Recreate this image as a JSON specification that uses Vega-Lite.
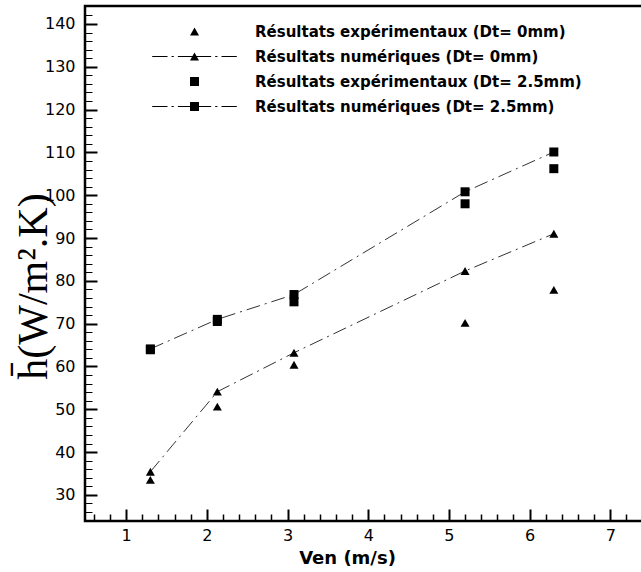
{
  "$schema": "https://vega.github.io/schema/vega-lite/v6.json",
  "width": 558,
  "height": 515,
  "autosize": {"type": "none"},
  "padding": {"left": 85, "top": 6, "right": -2, "bottom": 51},
  "background": "white",
  "config": {"view": {"stroke": "black", "strokeWidth": 2.5}, "font": "DejaVu Sans"},
  "data": {
    "values": [
      {"v": 1.3, "h": 33.5, "type": "exp", "dt": "0", "series": "Résultats expérimentaux (Dt= 0mm)"},
      {"v": 2.13, "h": 50.6, "type": "exp", "dt": "0", "series": "Résultats expérimentaux (Dt= 0mm)"},
      {"v": 3.08, "h": 60.4, "type": "exp", "dt": "0", "series": "Résultats expérimentaux (Dt= 0mm)"},
      {"v": 5.2, "h": 70.2, "type": "exp", "dt": "0", "series": "Résultats expérimentaux (Dt= 0mm)"},
      {"v": 6.3, "h": 77.9, "type": "exp", "dt": "0", "series": "Résultats expérimentaux (Dt= 0mm)"},
      {"v": 1.3, "h": 35.4, "type": "num", "dt": "0", "series": "Résultats numériques (Dt= 0mm)"},
      {"v": 2.13, "h": 54.1, "type": "num", "dt": "0", "series": "Résultats numériques (Dt= 0mm)"},
      {"v": 3.08, "h": 63.2, "type": "num", "dt": "0", "series": "Résultats numériques (Dt= 0mm)"},
      {"v": 5.2, "h": 82.3, "type": "num", "dt": "0", "series": "Résultats numériques (Dt= 0mm)"},
      {"v": 6.3, "h": 91.0, "type": "num", "dt": "0", "series": "Résultats numériques (Dt= 0mm)"},
      {"v": 1.3, "h": 63.9, "type": "exp", "dt": "2.5", "series": "Résultats expérimentaux (Dt= 2.5mm)"},
      {"v": 2.13, "h": 70.5, "type": "exp", "dt": "2.5", "series": "Résultats expérimentaux (Dt= 2.5mm)"},
      {"v": 3.08, "h": 75.1, "type": "exp", "dt": "2.5", "series": "Résultats expérimentaux (Dt= 2.5mm)"},
      {"v": 5.2, "h": 98.0, "type": "exp", "dt": "2.5", "series": "Résultats expérimentaux (Dt= 2.5mm)"},
      {"v": 6.3, "h": 106.2, "type": "exp", "dt": "2.5", "series": "Résultats expérimentaux (Dt= 2.5mm)"},
      {"v": 1.3, "h": 64.1, "type": "num", "dt": "2.5", "series": "Résultats numériques (Dt= 2.5mm)"},
      {"v": 2.13, "h": 71.0, "type": "num", "dt": "2.5", "series": "Résultats numériques (Dt= 2.5mm)"},
      {"v": 3.08, "h": 76.8, "type": "num", "dt": "2.5", "series": "Résultats numériques (Dt= 2.5mm)"},
      {"v": 5.2, "h": 100.8, "type": "num", "dt": "2.5", "series": "Résultats numériques (Dt= 2.5mm)"},
      {"v": 6.3, "h": 110.1, "type": "num", "dt": "2.5", "series": "Résultats numériques (Dt= 2.5mm)"}
    ]
  },
  "resolve": {"axis": {"x": "independent", "y": "independent"}, "scale": {"shape": "independent"}},
  "layer": [
    {
      "transform": [{"filter": "datum.type === 'num'"}],
      "mark": {"type": "line", "color": "#333333", "strokeWidth": 1, "strokeDash": [14, 5, 2, 5]},
      "encoding": {
        "x": {
          "field": "v", "type": "quantitative",
          "scale": {"domain": [0.49, 7.405], "nice": false, "zero": false},
          "axis": {
            "orient": "bottom", "offset": -12, "values": [1, 2, 3, 4, 5, 6, 7], "format": "d",
            "title": "Ven (m/s)", "titleFont": "DejaVu Sans", "titleFontSize": 18, "titleFontWeight": "bold", "titleColor": "black",
            "titleX": 262, "titleY": 49, "titleAlign": "center", "titleBaseline": "middle", "titleAnchor": "start",
            "labelFont": "DejaVu Sans", "labelFontSize": 16, "labelColor": "black", "labelPadding": 6, "labelFlush": false, "labelOverlap": false,
            "ticks": true, "tickSize": 12, "tickWidth": 2, "tickColor": "black",
            "domain": false, "grid": false
          }
        },
        "y": {
          "field": "h", "type": "quantitative",
          "scale": {"domain": [23.9, 144.2], "nice": false, "zero": false},
          "axis": {
            "orient": "left", "values": [30, 40, 50, 60, 70, 80, 90, 100, 110, 120, 130, 140], "format": "d",
            "title": "h̄(W/m².K)", "titleFont": "Liberation Serif", "titleFontSize": 42, "titleFontWeight": "normal", "titleColor": "black",
            "titleX": -52, "titleY": 280, "titleAlign": "center", "titleBaseline": "middle", "titleAngle": -90, "titleAnchor": "start",
            "labelFont": "DejaVu Sans", "labelFontSize": 16, "labelColor": "black", "labelPadding": 10, "labelFlush": false, "labelOverlap": false,
            "ticks": false, "domain": false,
            "grid": true, "gridColor": "black", "gridOpacity": 1, "gridWidth": 2, "gridDash": [12, 2000]
          }
        },
        "detail": {"field": "dt", "type": "nominal"}
      }
    },
    {
      "transform": [{"filter": "datum.type === 'num'"}],
      "mark": {"type": "point", "filled": true, "color": "black", "opacity": 1, "size": 81},
      "encoding": {
        "x": {
          "field": "v", "type": "quantitative",
          "scale": {"domain": [0.49, 7.405], "nice": false, "zero": false},
          "axis": {
            "orient": "top", "offset": -515,
            "values": [0.6, 0.8, 1.2, 1.4, 1.6, 1.8, 2.2, 2.4, 2.6, 2.8, 3.2, 3.4, 3.6, 3.8, 4.2, 4.4, 4.6, 4.8, 5.2, 5.4, 5.6, 5.8, 6.2, 6.4, 6.6, 6.8, 7.2],
            "title": null, "labels": false, "domain": false, "grid": false,
            "ticks": true, "tickSize": 7, "tickWidth": 1.5, "tickColor": "black"
          }
        },
        "y": {
          "field": "h", "type": "quantitative",
          "scale": {"domain": [23.9, 144.2], "nice": false, "zero": false},
          "axis": {
            "orient": "right",
            "values": [26, 28, 32, 34, 36, 38, 42, 44, 46, 48, 52, 54, 56, 58, 62, 64, 66, 68, 72, 74, 76, 78, 82, 84, 86, 88, 92, 94, 96, 98, 102, 104, 106, 108, 112, 114, 116, 118, 122, 124, 126, 128, 132, 134, 136, 138, 142],
            "title": null, "labels": false, "domain": false, "ticks": false,
            "grid": true, "gridColor": "black", "gridOpacity": 1, "gridWidth": 1, "gridDash": [7, 551], "gridDashOffset": 7
          }
        },
        "shape": {
          "field": "dt", "type": "nominal",
          "scale": {"domain": ["0", "2.5"], "range": ["triangle-up", "square"]},
          "legend": null
        }
      }
    },
    {
      "transform": [{"filter": "datum.type === 'exp'"}],
      "mark": {"type": "point", "filled": true, "color": "black", "opacity": 1, "size": 81},
      "encoding": {
        "x": {
          "field": "v", "type": "quantitative",
          "scale": {"domain": [0.49, 7.405], "nice": false, "zero": false},
          "axis": null
        },
        "y": {
          "field": "h", "type": "quantitative",
          "scale": {"domain": [23.9, 144.2], "nice": false, "zero": false},
          "axis": null
        },
        "shape": {
          "field": "series", "type": "nominal",
          "scale": {
            "domain": ["Résultats expérimentaux (Dt= 0mm)", "Résultats numériques (Dt= 0mm)", "Résultats expérimentaux (Dt= 2.5mm)", "Résultats numériques (Dt= 2.5mm)"],
            "range": [
              "triangle-up",
              "M-9.4,-0.12H-6V0.12H-9.4ZM-5.1,-0.12H-4.6V0.12H-5.1ZM-3.7,-0.12H-0.5V0.12H-3.7ZM0.5,-0.12H3.7V0.12H0.5ZM4.6,-0.12H5.1V0.12H4.6ZM6,-0.12H9.4V0.12H6ZM0,-0.866L-1,0.866L1,0.866Z",
              "square",
              "M-9.4,-0.12H-6V0.12H-9.4ZM-5.1,-0.12H-4.6V0.12H-5.1ZM-3.7,-0.12H-1V0.12H-3.7ZM1,-0.12H3.7V0.12H1ZM4.6,-0.12H5.1V0.12H4.6ZM6,-0.12H9.4V0.12H6ZM-1,-1H1V1H-1Z"
            ]
          },
          "legend": {
            "orient": "none", "legendX": 102, "legendY": 18, "title": null, "direction": "vertical", "padding": 0,
            "labelFont": "DejaVu Sans", "labelFontSize": 15, "labelFontWeight": "bold", "labelColor": "black", "labelLimit": 500,
            "labelOffset": 53, "rowPadding": 9, "symbolSize": 81,
            "symbolFillColor": "black", "symbolOpacity": 1
          }
        }
      }
    }
  ]
}
